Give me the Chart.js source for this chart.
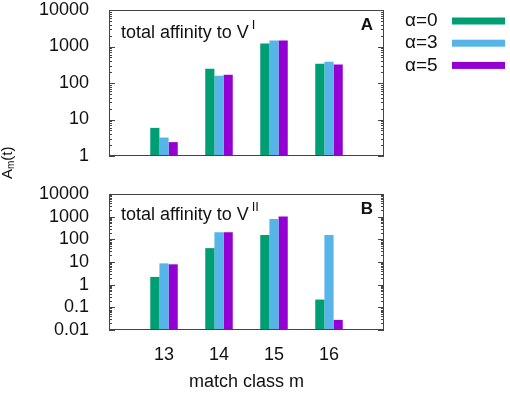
<!DOCTYPE html>
<html>
<head>
<meta charset="utf-8">
<script src="https://cdn.jsdelivr.net/npm/chart.js@4.4.1/dist/chart.umd.min.js"></script>
<style>
  body { margin: 0; background: #fff; }
  #wrap { position: relative; width: 510px; height: 393px; }
  #boxA { position: absolute; left: 0; top: 0; width: 510px; height: 180px; }
  #boxB { position: absolute; left: 0; top: 180px; width: 510px; height: 213px; }
</style>
</head>
<body>
<div id="wrap">
  <div id="boxA"><canvas id="chartA"></canvas></div>
  <div id="boxB"><canvas id="chartB"></canvas></div>
</div>
<script>
const matchClasses = [13, 14, 15, 16];
const seriesLabels = ["α=0", "α=3", "α=5"];
const seriesColors = ["#009e73", "#56b4e9", "#9400d3"];

// panel A: total affinity to V^I
const affinityA0 = [5.9, 245, 1200, 335];
const affinityA3 = [3.2, 158, 1450, 380];
const affinityA5 = [2.4, 168, 1450, 322];

// panel B: total affinity to V^II
const affinityB0 = [2.2, 41, 155, 0.22];
const affinityB3 = [8.7, 204, 790, 155];
const affinityB5 = [7.9, 204, 1030, 0.028];

const yTicksA = [1, 10, 100, 1000, 10000];
const yTicksB = [0.01, 0.1, 1, 10, 100, 1000, 10000];

const FONT = "'Liberation Sans', Arial, sans-serif";

function makeDatasets(series) {
  return series.map((vals, i) => ({
    label: seriesLabels[i],
    data: matchClasses.map((m, j) => ({ x: m, y: vals[j] })),
    backgroundColor: seriesColors[i],
    borderWidth: 0,
    categoryPercentage: 0.5,
    barPercentage: 1.0,
  }));
}

// drop the label overflow padding so layout.padding fixes the plot box
function noPad(s) {
  s.paddingTop = 0;
  s.paddingBottom = 0;
  s.paddingLeft = 0;
  s.paddingRight = 0;
}

const framePlugin = {
  id: "frame",
  afterDraw(chart, args, opts) {
    const { ctx, chartArea: a } = chart;
    const y = chart.scales.y;
    ctx.save();
    ctx.strokeStyle = "#444";
    ctx.lineWidth = 1;
    ctx.strokeRect(a.left + 0.5, a.top + 0.5, a.right - a.left - 1, a.bottom - a.top - 1);

    // inward log ticks on left and right edges
    y.ticks.forEach((t) => {
      for (let k = 1; k < 10; k++) {
        const v = t.value * k;
        if (v > y.max * 1.0001) break;
        const py = Math.round(y.getPixelForValue(v)) + 0.5;
        const len = k === 1 ? 6 : 3;
        ctx.beginPath();
        ctx.moveTo(a.left, py);
        ctx.lineTo(a.left + len, py);
        ctx.moveTo(a.right, py);
        ctx.lineTo(a.right - len, py);
        ctx.stroke();
      }
    });

    // panel caption
    ctx.fillStyle = "#111";
    ctx.textBaseline = "middle";
    ctx.textAlign = "left";
    ctx.font = "18px " + FONT;
    const tx = a.left + 12;
    const ty = a.top + opts.captionDy;
    ctx.fillText(opts.caption, tx, ty);
    const w = ctx.measureText(opts.caption).width;
    ctx.font = "13px " + FONT;
    ctx.fillText(opts.sup, tx + w + 3, ty - 8);

    ctx.font = "bold 17px " + FONT;
    ctx.textAlign = "center";
    ctx.fillText(opts.tag, a.right - 17, a.top + opts.tagDy);
    ctx.restore();
  },
};

const legendPlugin = {
  id: "sideLegend",
  afterDraw(chart) {
    const { ctx } = chart;
    ctx.save();
    ctx.textBaseline = "middle";
    ctx.textAlign = "left";
    ctx.font = "19px " + FONT;
    chart.data.datasets.forEach((ds, i) => {
      const cy = 21 + i * 22.2;
      ctx.fillStyle = "#111";
      ctx.fillText(ds.label, 405, cy);
      ctx.fillStyle = ds.backgroundColor;
      ctx.fillRect(452, cy - 3.5, 53, 7);
    });

    // y axis title A_m(t)
    ctx.translate(8, 165);
    ctx.rotate(-Math.PI / 2);
    ctx.fillStyle = "#111";
    ctx.textAlign = "left";
    ctx.font = "15px " + FONT;
    const x0 = -14;
    ctx.fillText("A", x0, 0);
    let x = x0 + ctx.measureText("A").width;
    ctx.font = "10px " + FONT;
    ctx.fillText("m", x, 3);
    x += ctx.measureText("m").width;
    ctx.font = "15px " + FONT;
    ctx.fillText("(t)", x, 0);
    ctx.restore();
  },
};

function yScale(min, max, ticks) {
  return {
    type: "logarithmic",
    min: min,
    max: max,
    afterBuildTicks: (s) => {
      s.ticks = ticks.map((v) => ({ value: v }));
    },
    afterFit: (s) => {
      s.width = 109;
      noPad(s);
    },
    grid: { display: false },
    border: { display: false },
    ticks: {
      padding: 12,
      autoSkip: false,
      color: "#111",
      font: { family: FONT, size: 18 },
      callback: (v) => String(v),
    },
  };
}

new Chart(document.getElementById("chartA"), {
  type: "bar",
  data: { datasets: makeDatasets([affinityA0, affinityA3, affinityA5]) },
  options: {
    responsive: true,
    maintainAspectRatio: false,
    animation: false,
    layout: { padding: { top: 10, right: 126, bottom: 24, left: 0 } },
    plugins: {
      legend: { display: false },
      tooltip: { enabled: false },
      frame: { caption: "total affinity to V", sup: "I", tag: "A", captionDy: 23, tagDy: 15 },
    },
    scales: {
      x: {
        type: "linear",
        min: 12,
        max: 17,
        offset: false,
        display: false,
        afterBuildTicks: (s) => {
          s.ticks = matchClasses.map((v) => ({ value: v }));
        },
      },
      y: yScale(1, 10000, yTicksA),
    },
  },
  plugins: [framePlugin, legendPlugin],
});

new Chart(document.getElementById("chartB"), {
  type: "bar",
  data: { datasets: makeDatasets([affinityB0, affinityB3, affinityB5]) },
  options: {
    responsive: true,
    maintainAspectRatio: false,
    animation: false,
    layout: { padding: { top: 14, right: 126, bottom: 0, left: 0 } },
    plugins: {
      legend: { display: false },
      tooltip: { enabled: false },
      frame: { caption: "total affinity to V", sup: "II", tag: "B", captionDy: 21, tagDy: 15 },
    },
    scales: {
      x: {
        type: "linear",
        min: 12,
        max: 17,
        offset: false,
        afterBuildTicks: (s) => {
          s.ticks = matchClasses.map((v) => ({ value: v }));
        },
        afterFit: (s) => {
          s.height = 63;
          noPad(s);
        },
        grid: { display: false, offset: false },
        border: { display: false },
        ticks: {
          padding: 6,
          autoSkip: false,
          color: "#111",
          maxRotation: 0,
          font: { family: FONT, size: 18 },
          callback: (v) => String(v),
        },
        title: {
          display: true,
          text: "match class m",
          color: "#111",
          font: { family: FONT, size: 18 },
          padding: { top: 0, bottom: 0 },
        },
      },
      y: yScale(0.01, 10000, yTicksB),
    },
  },
  plugins: [framePlugin],
});
</script>
</body>
</html>
